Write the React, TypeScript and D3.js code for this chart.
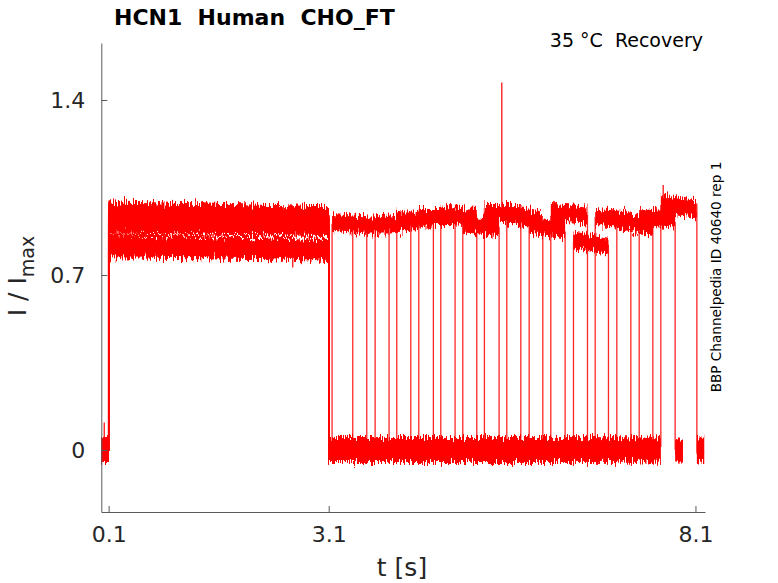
import React, { useEffect, useRef } from "react";
import * as d3 from "d3";

// recovery protocol: 16 sweeps, pulse 1 (0.1-3.1 s), gap at 0, pulse 2, back to 0
const riseTimes = [3.146, 3.428, 3.733, 4.028, 4.328, 4.628, 4.928, 5.223, 5.528, 5.833, 6.128, 6.437, 6.733, 7.028, 7.333, 7.628];
const fallTimes = [3.619, 3.923, 4.219, 4.527, 4.823, 5.119, 5.423, 5.719, 6.019, 6.323, 6.628, 6.914, 7.219, 7.519, 7.823, 8.119];
const endTimes = [3.73, 4.03, 4.33, 4.64, 4.93, 5.23, 5.53, 5.83, 6.13, 6.43, 6.74, 7.02, 7.33, 7.62, 7.93, 8.22];

const pulse1Start = [0.95, 0.93, 0.96, 0.92, 0.94, 0.91, 0.83, 0.95, 0.93, 0.815, 0.96, 0.805, 0.92, 0.94, 0.9, 0.95];
const pulse1End = [0.93, 0.92, 0.94, 0.9, 0.93, 0.9, 0.81, 0.94, 0.91, 0.79, 0.94, 0.795, 0.91, 0.92, 0.89, 0.94];
const pulse2Start = [0.91, 0.9, 0.9, 0.92, 0.93, 0.94, 0.9, 0.95, 0.94, 0.9, 0.95, 0.84, 0.93, 0.92, 0.93, 0.99];
const pulse2End = [0.9, 0.9, 0.91, 0.92, 0.93, 0.93, 0.89, 0.95, 0.92, 0.88, 0.94, 0.815, 0.92, 0.89, 0.92, 0.96];

// single-sample spikes [t, low, high]
const spikes: [number, number, number][] = [
  [5.46, 0.92, 1.47],
  [2.61, 0.73, 0.79],
  [0.04, 0.0, 0.11],
  [7.66, 0.98, 1.06],
];

const noiseOn = 0.034;
const noiseOff = 0.05;

const xTicks = [0.1, 3.1, 8.1];
const yTicks = [0, 0.7, 1.4];

type Seg = { t0: number; t1: number; a: number; b: number; on: boolean };

const App: React.FC = () => {
  const svgRef = useRef<SVGSVGElement>(null);
  const width = 778;
  const height = 583;

  useEffect(() => {
    const svg = d3.select(svgRef.current);
    svg.selectAll("*").remove();

    const x = d3.scaleLinear().domain([0, 8.23]).range([101.3, 705]);
    const y = d3.scaleLinear().domain([-0.248, 1.628]).range([512, 43]);
    const red = "#ff0000";
    const font = "'DejaVu Sans', sans-serif";
    const txt = "#262626";

    // jagged edges so the recorded noise reads as noise
    const defs = svg.append("defs");
    const flt = defs.append("filter")
      .attr("id", "jitter")
      .attr("filterUnits", "userSpaceOnUse")
      .attr("x", 90).attr("y", 40).attr("width", 630).attr("height", 480)
      .attr("color-interpolation-filters", "sRGB");
    flt.append("feTurbulence")
      .attr("type", "fractalNoise")
      .attr("baseFrequency", "1.1 0.09")
      .attr("numOctaves", 2)
      .attr("seed", 3)
      .attr("result", "turb");
    flt.append("feColorMatrix")
      .attr("in", "turb")
      .attr("type", "matrix")
      .attr("values", "0 0 0 0 0.5  0 1 0 0 0  0 0 0 0 0  0 0 0 0 1")
      .attr("result", "map");
    flt.append("feDisplacementMap")
      .attr("in", "SourceGraphic")
      .attr("in2", "map")
      .attr("scale", 18)
      .attr("xChannelSelector", "R")
      .attr("yChannelSelector", "G");

    const band = d3.area<[number, number, number]>()
      .x((d) => x(d[0]))
      .y0((d) => y(d[1] - d[2]))
      .y1((d) => y(d[1] + d[2]));
    const line = d3.line<[number, number]>()
      .x((d) => x(d[0]))
      .y((d) => y(d[1]));

    const traces = svg.append("g").attr("filter", "url(#jitter)");
    riseTimes.forEach((rise, k) => {
      const segs: Seg[] = [
        { t0: 0, t1: 0.1, a: 0, b: 0, on: false },
        { t0: 0.1, t1: 3.1, a: pulse1Start[k], b: pulse1End[k], on: true },
        { t0: 3.1, t1: rise, a: 0, b: 0, on: false },
        { t0: rise, t1: fallTimes[k], a: pulse2Start[k], b: pulse2End[k], on: true },
        { t0: fallTimes[k], t1: endTimes[k], a: 0, b: 0, on: false },
      ];
      segs.forEach((s) => {
        const n = s.on ? noiseOn : noiseOff;
        traces.append("path")
          .attr("d", band([[s.t0, s.a, n], [s.t1, s.b, n]]) as string)
          .attr("fill", red);
      });
      const pts: [number, number][] = [];
      segs.forEach((s) => {
        pts.push([s.t0, s.a]);
        pts.push([s.t1, s.b]);
      });
      traces.append("path")
        .attr("d", line(pts) as string)
        .attr("fill", "none")
        .attr("stroke", red)
        .attr("stroke-opacity", 0.85)
        .attr("stroke-width", 1.3);
    });

    spikes.forEach(([t, lo, hi]) => {
      svg.append("line")
        .attr("x1", x(t)).attr("x2", x(t))
        .attr("y1", y(lo)).attr("y2", y(hi))
        .attr("stroke", red)
        .attr("stroke-width", 1.2);
    });

    const xAxis = svg.append("g")
      .attr("transform", "translate(0,512)")
      .call(d3.axisBottom(x).tickValues(xTicks).tickFormat(d3.format("")).tickSizeInner(-6).tickSizeOuter(0).tickPadding(14));
    const yAxis = svg.append("g")
      .attr("transform", "translate(101.3,0)")
      .call(d3.axisLeft(y).tickValues(yTicks).tickFormat(d3.format("")).tickSizeInner(-6).tickSizeOuter(0).tickPadding(16));
    [xAxis, yAxis].forEach((g) => {
      g.select(".domain").attr("stroke", "#5a5a5a");
      g.selectAll(".tick line").attr("stroke", "#5a5a5a");
      g.selectAll(".tick text")
        .attr("fill", txt)
        .style("font-family", font)
        .style("font-size", "22px");
    });

    svg.append("text")
      .attr("x", 114).attr("y", 25)
      .attr("fill", "#000")
      .style("font-family", font)
      .style("font-size", "22px")
      .style("font-weight", "bold")
      .style("white-space", "pre")
      .text("HCN1  Human  CHO_FT");

    svg.append("text")
      .attr("x", 703).attr("y", 47)
      .attr("text-anchor", "end")
      .attr("fill", "#000")
      .style("font-family", font)
      .style("font-size", "19px")
      .style("white-space", "pre")
      .text("35 °C  Recovery");

    svg.append("text")
      .attr("transform", "translate(721,277) rotate(-90)")
      .attr("text-anchor", "middle")
      .attr("fill", "#000")
      .style("font-family", font)
      .style("font-size", "13.6px")
      .text("BBP Channelpedia ID 40640 rep 1");

    svg.append("text")
      .attr("x", 402).attr("y", 576)
      .attr("text-anchor", "middle")
      .attr("fill", txt)
      .style("font-family", font)
      .style("font-size", "25px")
      .text("t [s]");

    const yl = svg.append("text")
      .attr("transform", "translate(26,276) rotate(-90)")
      .attr("text-anchor", "middle")
      .attr("fill", txt)
      .style("font-family", font)
      .style("font-size", "25px")
      .style("white-space", "pre");
    yl.append("tspan").text("I / I");
    yl.append("tspan").attr("dy", 8).style("font-size", "19px").text("max");
  }, []);

  return (
    <svg
      ref={svgRef}
      width={width}
      height={height}
      style={{ position: "absolute", left: 0, top: 0, background: "#fff" }}
    ></svg>
  );
};

export default App;
